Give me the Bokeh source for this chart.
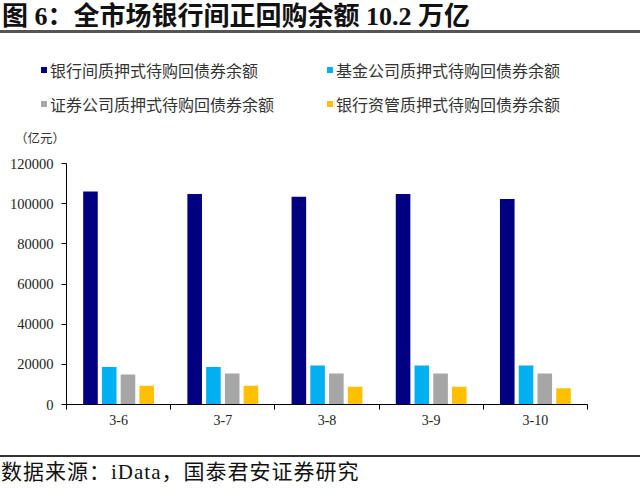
import numpy as np
from bokeh.plotting import figure
from bokeh.models import Range1d, FixedTicker, Div, NumeralTickFormatter
from bokeh.layouts import column
from bokeh.embed import file_html
from bokeh.resources import INLINE

# ---- data ----
dates = ["3-6", "3-7", "3-8", "3-9", "3-10"]
interbank = [106100, 104800, 103500, 104800, 102300]
fund = [18700, 18700, 19400, 19400, 19400]
securities = [14900, 15400, 15400, 15400, 15400]
bank_am = [9300, 9300, 8800, 8900, 8100]
series_names = ["银行间质押式待购回债券余额", "基金公司质押式待购回债券余额",
                "证券公司质押式待购回债券余额", "银行资管质押式待购回债券余额"]
y_ticks = list(range(0, 120001, 20000))
unit_text = "（亿元）"
title_text = "图 6：全市场银行间正回购余额 10.2 万亿"
source_text = "数据来源：iData，国泰君安证券研究"

colors = ["#000080", "#00B0F0", "#A6A6A6", "#FFC000"]
offsets = [-0.27, -0.09, 0.09, 0.27]
bar_w = 0.14

CJK = "'Liberation Serif','Noto Sans CJK SC'"

title_div = Div(
    text=('<div style="width:640px;height:33px;border-bottom:3px solid #555555;'
          'font-size:26px;line-height:34px;color:#111;'
          f'font-family:{CJK};font-weight:bold;'
          f'white-space:nowrap;padding-left:2px;">{title_text}</div>'),
    width=640, height=36, margin=(0, 0, 0, 0))

# legend + unit label block (HTML), built from the series lists
legend_pos = [(41, 34), (327, 34), (41, 68), (327, 68)]  # (left, center-y) for grid slots
items_html = []
for (lx, cy), name, col in zip(legend_pos, series_names, colors):
    items_html.append(
        f'<div style="position:absolute;left:{lx}px;top:{cy - 3}px;width:6px;height:6px;'
        f'background:{col};"></div>'
        f'<div style="position:absolute;left:{lx + 9}px;top:{cy - 10}px;font-size:16px;'
        f'line-height:20px;color:#333;white-space:nowrap;font-family:\'Noto Sans CJK SC\';">{name}</div>')
items_html.append(
    f'<div style="position:absolute;left:15px;top:94px;font-size:12.5px;line-height:16px;'
    f'color:#333;white-space:nowrap;font-family:\'Noto Sans CJK SC\';">{unit_text}</div>')
legend_div = Div(
    text=('<div style="position:relative;width:640px;height:114px;">' + "".join(items_html) + '</div>'),
    width=640, height=114, margin=(0, 0, 0, 0))

FH = 305
p = figure(width=640, height=FH, x_range=Range1d(0, len(dates)),
           y_range=Range1d(0, 120000), output_backend="svg",
           toolbar_location=None, min_border_left=66, min_border_right=53,
           min_border_top=13, min_border_bottom=51, margin=(0, 0, 0, 0))
p.outline_line_color = None
p.xgrid.visible = False
p.ygrid.visible = False

xs = np.arange(len(dates)) + 0.5
for vals, col, off in zip([interbank, fund, securities, bank_am], colors, offsets):
    p.vbar(x=xs + off, top=vals, width=bar_w, bottom=0,
           fill_color=col, line_color=None)

# x axis: labels at group centers, tick marks at group boundaries
p.xaxis.ticker = FixedTicker(ticks=list(xs), minor_ticks=list(np.arange(len(dates) + 1)))
p.xaxis.major_label_overrides = {float(x): d for x, d in zip(xs, dates)}
p.xaxis.major_tick_line_color = None
p.xaxis.major_tick_in = 0
p.xaxis.major_tick_out = 5
p.xaxis.minor_tick_in = 0
p.xaxis.minor_tick_out = 5
p.xaxis.minor_tick_line_color = "#000000"
p.xaxis.axis_line_color = "#000000"
p.xaxis.major_label_text_font = "Liberation Serif"
p.xaxis.major_label_text_font_size = "14px"
p.xaxis.major_label_text_color = "#222222"
p.xaxis.major_label_standoff = 5

p.yaxis.ticker = FixedTicker(ticks=y_ticks)
p.yaxis.formatter = NumeralTickFormatter(format="0")
p.yaxis.major_tick_in = 0
p.yaxis.major_tick_out = 5
p.yaxis.minor_tick_line_color = None
p.yaxis.axis_line_color = "#000000"
p.yaxis.major_tick_line_color = "#000000"
p.yaxis.major_label_text_font = "Liberation Serif"
p.yaxis.major_label_text_font_size = "14.5px"
p.yaxis.major_label_text_color = "#222222"
p.yaxis.major_label_standoff = 8

foot_div = Div(
    text=('<div style="width:640px;height:31px;border-top:2px solid #333333;'
          'font-size:21px;line-height:30px;color:#111;letter-spacing:1px;'
          f'font-family:{CJK};white-space:nowrap;'
          f'padding-left:1px;">{source_text}</div>'),
    width=640, height=33, margin=(0, 0, 0, 0))

layout = column(title_div, legend_div, p, foot_div, spacing=0, margin=(0, 0, 0, 0))
open("out.html", "w").write(file_html(layout, INLINE))
